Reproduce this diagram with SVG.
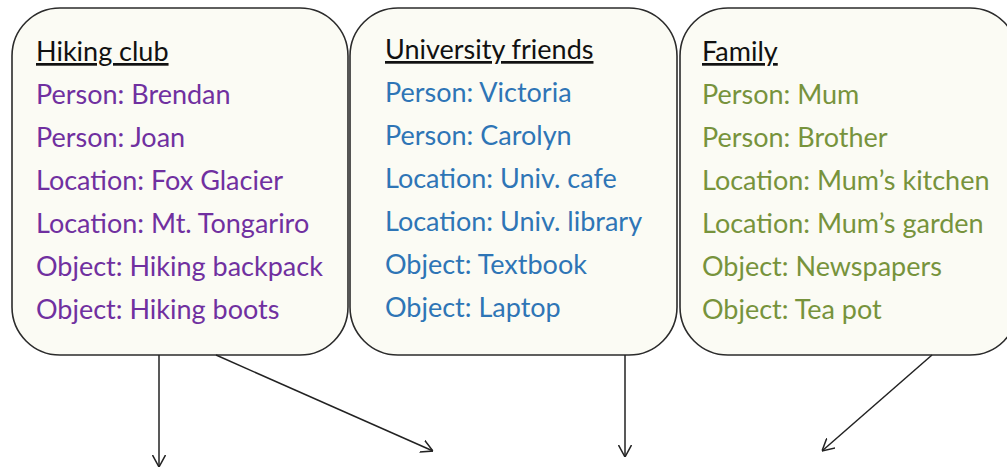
<svg xmlns="http://www.w3.org/2000/svg" width="1007" height="470" viewBox="0 0 1007 470">
  <style>
    .box { fill: #fbfbf4; stroke: #2b2b2b; stroke-width: 1.6; }
    text { font-family: "Lato", "Open Sans", "Liberation Sans", sans-serif; font-size: 27px; }
    .title { fill: #111; text-decoration: underline; }
    .hike { fill: #7030a0; }
    .uni { fill: #2e75b6; }
    .fam { fill: #77933c; }
    .conn { fill: none; stroke: #222; stroke-width: 1.5; }
  </style>
  <defs>
    <marker id="arrow" viewBox="0 0 12 14" refX="12" refY="7" markerWidth="12" markerHeight="14" markerUnits="userSpaceOnUse" orient="auto">
      <path d="M0,0.5 L12,7 L0,13.5" fill="none" stroke="#222" stroke-width="1.5"/>
    </marker>
  </defs>

  <g id="hiking-club">
    <rect class="box" x="12" y="8" width="336" height="347" rx="48" ry="48"/>
    <text class="title" x="36" y="61">Hiking club</text>
    <text class="hike" x="36" y="104">Person: Brendan</text>
    <text class="hike" x="36" y="147">Person: Joan</text>
    <text class="hike" x="36" y="190">Location: Fox Glacier</text>
    <text class="hike" x="36" y="233">Location: Mt. Tongariro</text>
    <text class="hike" x="36" y="276">Object: Hiking backpack</text>
    <text class="hike" x="36" y="319">Object: Hiking boots</text>
  </g>

  <g id="university-friends">
    <rect class="box" x="350" y="8" width="327" height="347" rx="48" ry="48"/>
    <text class="title" x="385" y="59">University friends</text>
    <text class="uni" x="385" y="102">Person: Victoria</text>
    <text class="uni" x="385" y="145">Person: Carolyn</text>
    <text class="uni" x="385" y="188">Location: Univ. cafe</text>
    <text class="uni" x="385" y="231">Location: Univ. library</text>
    <text class="uni" x="385" y="274">Object: Textbook</text>
    <text class="uni" x="385" y="317">Object: Laptop</text>
  </g>

  <g id="family">
    <rect class="box" x="680" y="8" width="338" height="347" rx="48" ry="48"/>
    <text class="title" x="702" y="61">Family</text>
    <text class="fam" x="702" y="104">Person: Mum</text>
    <text class="fam" x="702" y="147">Person: Brother</text>
    <text class="fam" x="702" y="190">Location: Mum’s kitchen</text>
    <text class="fam" x="702" y="233">Location: Mum’s garden</text>
    <text class="fam" x="702" y="276">Object: Newspapers</text>
    <text class="fam" x="702" y="319">Object: Tea pot</text>
  </g>

  <g id="connectors">
    <line class="conn" x1="159" y1="355" x2="159" y2="467" marker-end="url(#arrow)"/>
    <line class="conn" x1="216" y1="355" x2="433" y2="451" marker-end="url(#arrow)"/>
    <line class="conn" x1="625" y1="355" x2="625" y2="457" marker-end="url(#arrow)"/>
    <line class="conn" x1="932" y1="355" x2="822" y2="451" marker-end="url(#arrow)"/>
  </g>
</svg>
